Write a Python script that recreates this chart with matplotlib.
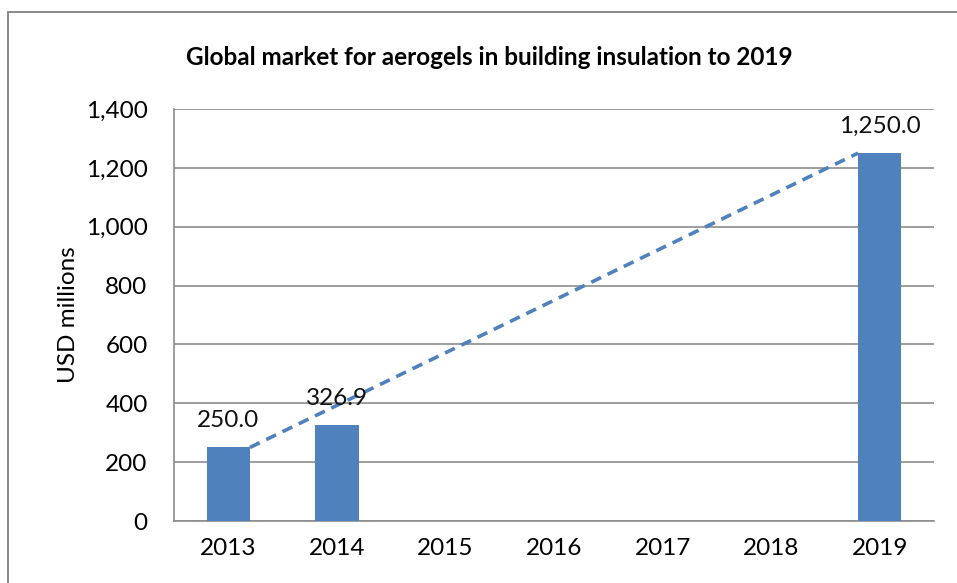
import numpy as np
import matplotlib.pyplot as plt
from matplotlib.patches import Rectangle

years = ["2013", "2014", "2015", "2016", "2017", "2018", "2019"]
values = [250.0, 326.9, 0, 0, 0, 0, 1250.0]
labels = ["250.0", "326.9", "", "", "", "", "1,250.0"]
yticks = [0, 200, 400, 600, 800, 1000, 1200, 1400]

plt.rcParams['font.family'] = ['Lato', 'DejaVu Sans']
fs = 17.5

fig = plt.figure(figsize=(9.57, 5.83), dpi=100)
ax = fig.add_axes([174/957, 1 - 521/583, 760/957, 412/583])

blue = "#4F81BD"
x = np.arange(len(years))
w = 0.4
shown = [i for i, v in enumerate(values) if v > 0]
ax.bar([x[i] for i in shown], [values[i] for i in shown], width=w, color=blue, zorder=3)

# dashed trend from first to last bar
first, last = shown[0], shown[-1]
ax.plot([x[first] + w/2, x[last] - w/2], [values[first], values[last]],
        ls=(0, (3, 2)), color=blue, lw=2.6, zorder=4)

for i in shown:
    ax.text(x[i], values[i] + 55, labels[i], ha="center", va="bottom", fontsize=fs, color="#111111", zorder=5)

ax.set_xlim(-0.5, 6.5)
ax.set_ylim(0, 1400)
ax.set_xticks(x)
ax.set_xticklabels(years, fontsize=fs)
ax.set_yticks(yticks)
ax.set_yticklabels([f"{v:,}" for v in yticks], fontsize=fs)
ax.tick_params(length=0, pad=19)
ax.tick_params(axis="x", pad=12)
ax.yaxis.grid(True, color="#8c8c8c", lw=1.2, zorder=0)
for s in ["top", "right"]:
    ax.spines[s].set_visible(False)
for s in ["left", "bottom"]:
    ax.spines[s].set_color("#8c8c8c")
    ax.spines[s].set_linewidth(1.2)
ax.set_ylabel("USD millions", fontsize=fs)
ax.yaxis.set_label_coords(-0.125, 0.5)

fig.text(0.511, 0.902, "Global market for aerogels in building insulation to 2019",
         ha="center", va="center", fontsize=fs, fontweight="bold")

fig.patches.append(Rectangle((8/957, -0.1), 1.2, 1 - 12/583 + 0.1, transform=fig.transFigure,
                             fill=False, edgecolor="#808080", lw=1.3))

fig.savefig("out.png", dpi=100)
